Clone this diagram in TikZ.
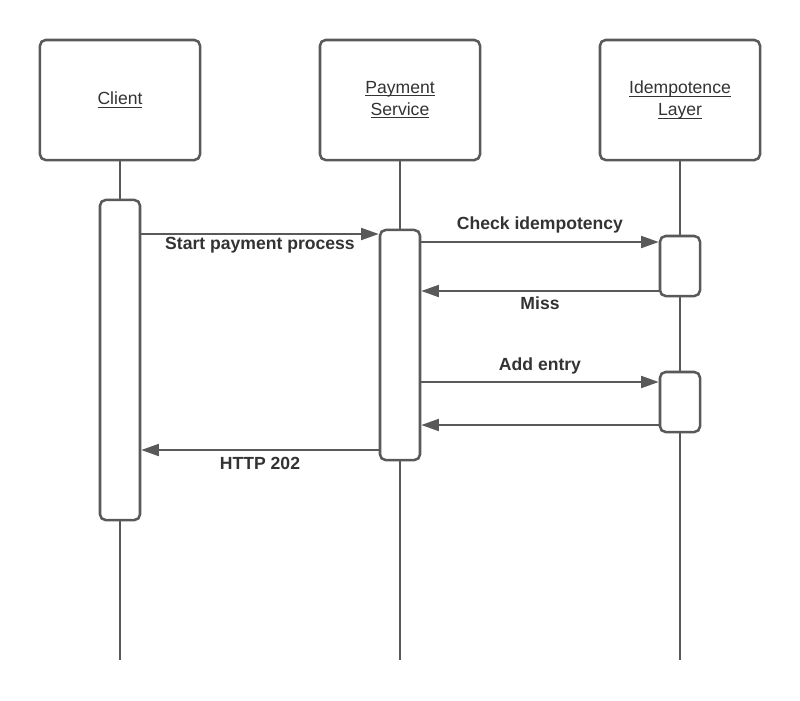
\documentclass[tikz,border=0pt]{standalone}
\usepackage{amsmath}
\usepackage{fontspec}
\setmainfont{Liberation Sans}
\usepackage{xcolor}
\usetikzlibrary{calc, arrows.meta}
\definecolor{lin}{HTML}{595959}
\definecolor{txt}{HTML}{333333}
\newcommand{\ulw}[1]{\underline{\smash[b]{#1}}}
\begin{document}
\begin{tikzpicture}[x=0.025cm, y=-0.025cm,
		head/.style = {draw=lin, line width=1.8pt, rounded corners=4pt, fill=white, minimum width=4cm, minimum height=3cm, align=center, text=txt, font=\fontsize{12.5}{15.6}\selectfont},
		act/.style = {draw=lin, line width=1.8pt, rounded corners=4pt, fill=white, minimum width=1cm},
		life/.style = {draw=lin, line width=1.4pt},
		msg/.style = {draw=lin, line width=1.4pt, -{Triangle[length=12.5pt, width=8.5pt]}},
		lbl/.style = {text=txt, font=\fontsize{12.5}{15}\bfseries\selectfont}]
			\useasboundingbox (0,0) rectangle (800,700);
			
			\node[head] (client) at (120,100) {\ulw{Client}};
			\node[head] (pay) at (400,100) {\ulw{Payment}\\\ulw{Service}};
			\node[head] (idem) at (680,100) {\ulw{Idempotence}\\\ulw{Layer}};
			
			\coordinate (endC) at (120,660);
			\coordinate (endP) at (400,660);
			\coordinate (endI) at (680,660);
			
			\draw[life] (client) -- (endC);
			\draw[life] (pay) -- (endP);
			\draw[life] (idem) -- (endI);
			
			\node[act, minimum height=8cm] (actC) at (120,360) {};
			\node[act, minimum height=5.75cm] (actP) at (400,345) {};
			\node[act, minimum height=1.5cm] (actI) at (680,266) {};
			\node[act, minimum height=1.5cm] (actJ) at (680,402) {};
			
			\coordinate (r1) at (0,234);
			\coordinate (r2) at (0,242);
			\coordinate (r3) at (0,291);
			\coordinate (r4) at (0,382);
			\coordinate (r5) at (0,425);
			\coordinate (r6) at (0,450);
			
			\draw[msg] (actC.east |- r1) -- (actP.west |- r1);
			\draw[msg] (actP.east |- r2) -- (actI.west |- r2);
			\draw[msg] (actI.west |- r3) -- (actP.east |- r3);
			\draw[msg] (actP.east |- r4) -- (actJ.west |- r4);
			\draw[msg] (actJ.west |- r5) -- (actP.east |- r5);
			\draw[msg] (actP.west |- r6) -- (actC.east |- r6);
			
			\node[lbl] (l1) at (260,245) {Start payment process};
			\node[lbl] (l2) at (540,225) {Check idempotency};
			\node[lbl] (l3) at (540,303) {Miss};
			\node[lbl] (l4) at (540,366) {Add entry};
			\node[lbl] (l6) at (260,463) {HTTP 202};
		\end{tikzpicture}
\end{document}
